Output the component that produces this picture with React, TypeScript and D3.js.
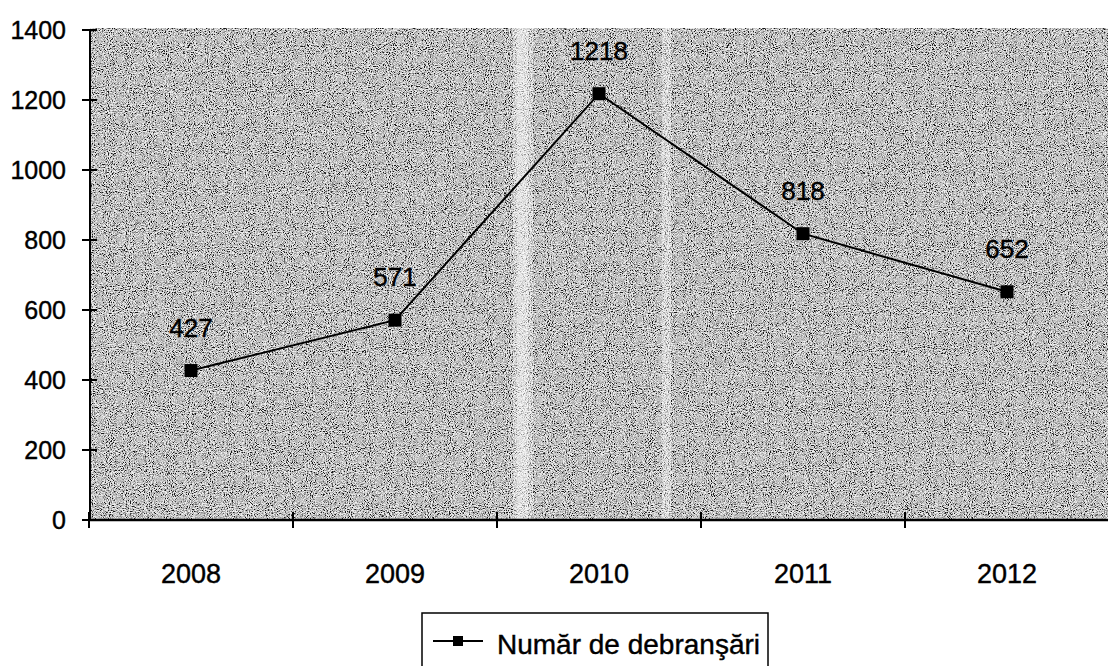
import React from "react";
import * as d3 from "d3";

const years = ["2008", "2009", "2010", "2011", "2012"];
const debransari = [427, 571, 1218, 818, 652];
const yTicks = [0, 200, 400, 600, 800, 1000, 1200, 1400];
const seriesName = "Număr de debranşări";

const W = 1108;
const H = 666;
const left = 90;
const top = 30;
const bottom = 520;
const right = 1110;

export default function App() {
  const x = d3.scaleBand<string>().domain(years).range([left - 1, right - 1]);
  const y = d3.scaleLinear().domain([0, 1400]).range([bottom, top]);
  const cx = (d: string) => (x(d) ?? 0) + x.bandwidth() / 2;

  const line = d3
    .line<number>()
    .x((_, i) => cx(years[i]))
    .y((v) => y(v));

  const font = "Arial, 'Liberation Sans', sans-serif";
  const boundaries = years.map((d) => x(d) ?? 0);
  const ink = { stroke: "#000", strokeWidth: 0.4 };

  return (
    <svg
      width={W}
      height={H}
      style={{ position: "absolute", left: 0, top: 0, display: "block", background: "#fff" }}
    >
      <defs>
        <filter id="grain" x="0" y="0" width="100%" height="100%">
          <feTurbulence type="fractalNoise" baseFrequency="0.95" numOctaves="2" seed="7" result="n" />
          <feColorMatrix
            in="n"
            type="matrix"
            values="0.33 0.33 0.33 0 0  0.33 0.33 0.33 0 0  0.33 0.33 0.33 0 0  0 0 0 0 1"
            result="g"
          />
          <feComponentTransfer in="g">
            <feFuncR type="linear" slope="5.5" intercept="-2.15" />
            <feFuncG type="linear" slope="5.5" intercept="-2.15" />
            <feFuncB type="linear" slope="5.5" intercept="-2.15" />
          </feComponentTransfer>
        </filter>
      </defs>

      {/* textured plot background */}
      <rect x={left} y={top - 2} width={right - left} height={bottom - top + 2} fill="#9c9c9c" />
      <rect
        x={left}
        y={top - 2}
        width={right - left}
        height={bottom - top + 2}
        filter="url(#grain)"
        opacity={0.85}
      />
      {/* pale vertical streaks in the middle of the plot */}
      <rect x={513} y={top - 2} width={20} height={bottom - top + 2} fill="#fff" opacity={0.35} />
      <rect x={517} y={top - 2} width={11} height={bottom - top + 2} fill="#fff" opacity={0.3} />
      <rect x={662} y={top - 2} width={9} height={bottom - top + 2} fill="#fff" opacity={0.4} />

      {/* y axis */}
      <line x1={left} x2={left} y1={top} y2={bottom} stroke="#000" strokeWidth={2} />
      {yTicks.map((t) => (
        <g key={t}>
          <line x1={left - 8} x2={left + 7} y1={y(t)} y2={y(t)} stroke="#000" strokeWidth={2} />
          <text
            x={left - 24}
            y={y(t)}
            dy="0.36em"
            textAnchor="end"
            fontFamily={font}
            fontSize={25}
            fill="#000"
            {...ink}
          >
            {t}
          </text>
        </g>
      ))}

      {/* x axis */}
      <line x1={left} x2={W} y1={bottom} y2={bottom} stroke="#000" strokeWidth={2.5} />
      {boundaries.map((b, i) => (
        <line key={i} x1={b} x2={b} y1={bottom - 8} y2={bottom + 8} stroke="#000" strokeWidth={2} />
      ))}
      {years.map((d) => (
        <text
          key={d}
          x={cx(d)}
          y={583}
          textAnchor="middle"
          fontFamily={font}
          fontSize={27}
          fill="#000"
          {...ink}
        >
          {d}
        </text>
      ))}

      {/* series */}
      <path d={line(debransari) ?? ""} fill="none" stroke="#000" strokeWidth={2} />
      {debransari.map((v, i) => (
        <g key={years[i]}>
          <rect x={cx(years[i]) - 6.5} y={y(v) - 6.5} width={13} height={13} fill="#000" />
          <text
            x={cx(years[i])}
            y={y(v) - 34}
            textAnchor="middle"
            fontFamily={font}
            fontSize={26}
            fill="#000"
            {...ink}
          >
            {v}
          </text>
        </g>
      ))}

      {/* legend */}
      <rect x={422} y={613} width={346} height={56} fill="#fff" stroke="#000" strokeWidth={1.5} />
      <line x1={433} x2={483} y1={641} y2={641} stroke="#000" strokeWidth={2} />
      <rect x={453} y={636} width={10} height={10} fill="#000" />
      <text x={497} y={654} fontFamily={font} fontSize={28} fill="#000" {...ink}>
        {seriesName}
      </text>
    </svg>
  );
}
